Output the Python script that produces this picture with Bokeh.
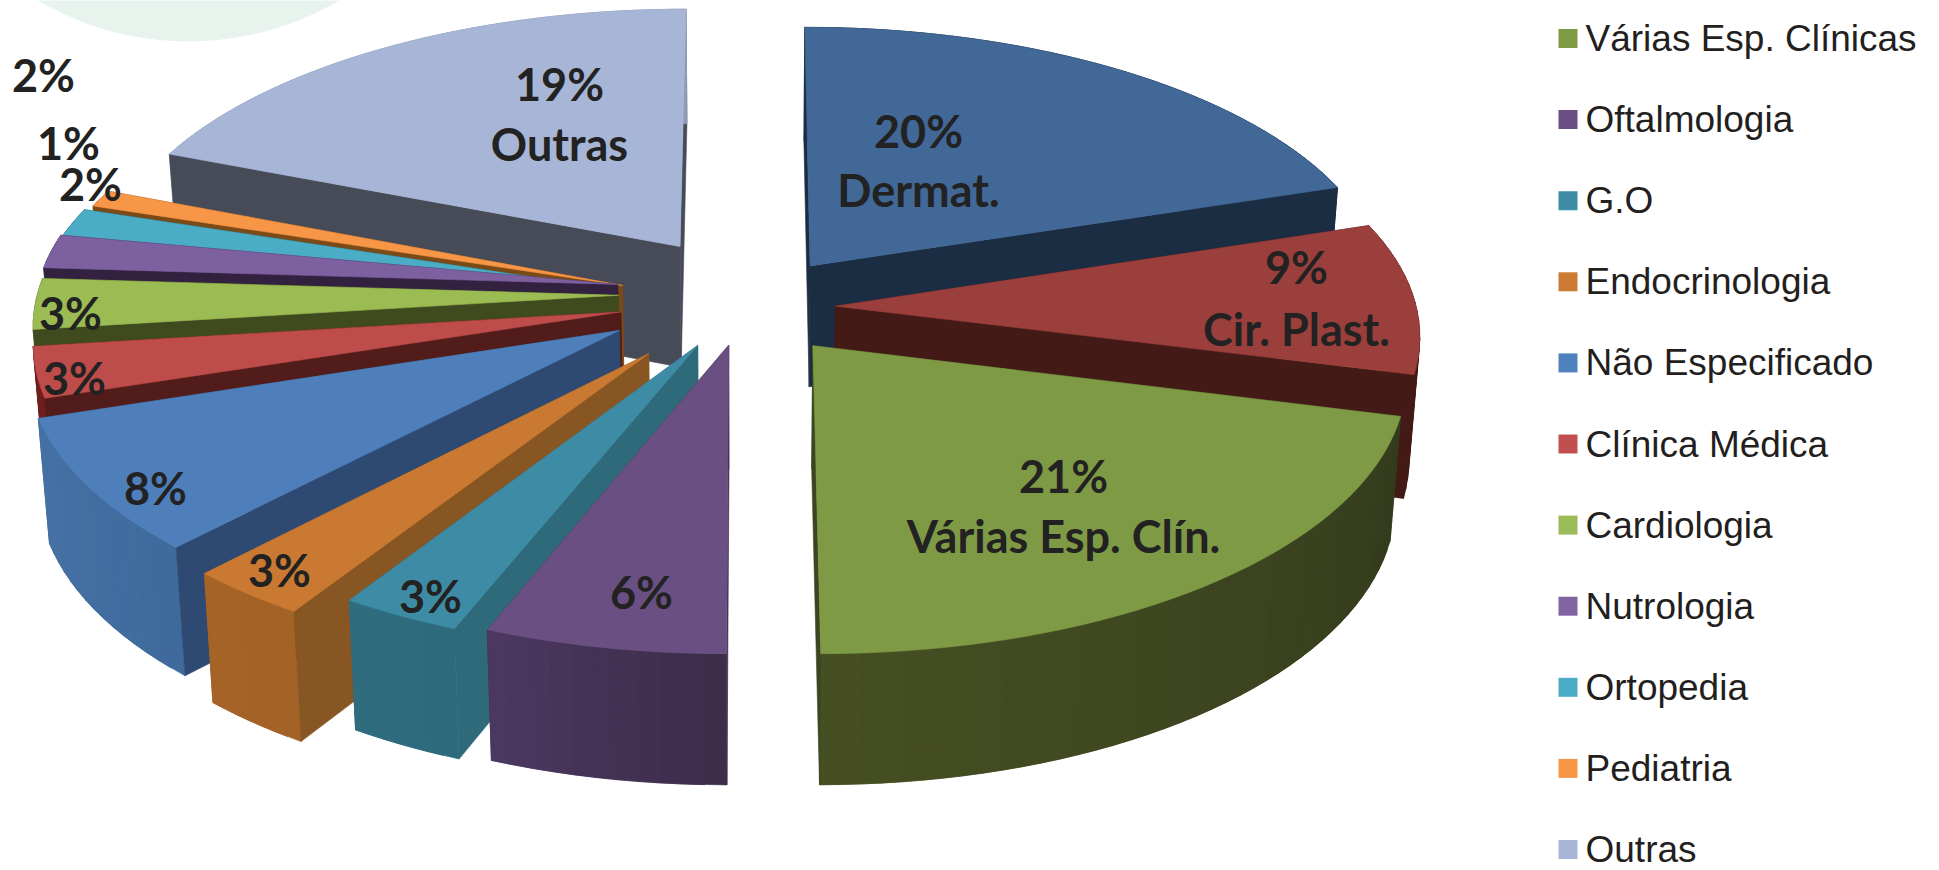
import numpy as np
from bokeh.plotting import figure
from bokeh.models import ColumnDataSource
from bokeh.core.properties import value
from bokeh.embed import file_html
from bokeh.resources import INLINE

# ---- data ----
categories = ["Dermatologia", "Cirurgia Plástica", "Várias Esp. Clínicas", "Oftalmologia", "G.O",
              "Endocrinologia", "Não Especificado", "Clínica Médica", "Cardiologia", "Nutrologia",
              "Ortopedia", "Pediatria", "Outras"]
shares = [20, 9, 21, 6, 3, 3, 8, 3, 3, 2, 2, 1, 19]
slice_labels = ["20%\nDermat.", "9%\nCir. Plast.", "21%\nVárias Esp. Clín.", "6%", "3%", "3%", "8%",
                "3%", "3%", "2%", "2%", "1%", "19%\nOutras"]
legend_categories = categories[2:]

# ---- styles ----
top_colors = ["#416897", "#9b3f3d", "#7f9a45", "#6a5082", "#3e8ba5", "#c97931", "#4f7fbb",
              "#bd4c4a", "#9bbb53", "#7d60a0", "#4bacc6", "#f79646", "#a7b6d6"]
face_colors = ["#1b2d43", "#431a16", "#3b4620", "#3f2e4e", "#2e6a7a", "#875623", "#2e4a72",
               "#521c1a", "#3f4a1f", "#32213f", "#1d4752", "#7a4a17", "#474b58"]
rim_from = ["#1b2d43", "#431a16", "#333b1d", "#3d2c4a", "#2d6a7c", "#a36226", "#3f6a9c",
            "#6e1f1e", "#5f7530", "#4b3a63", "#2f6c7e", "#95591f", "#8f9bb6"]
rim_to = ["#1b2d43", "#431a16", "#464f22", "#4b3860", "#2f6c7e", "#a56327", "#4671a5",
          "#6e1f1e", "#5f7530", "#4b3a63", "#2f6c7e", "#95591f", "#8f9bb6"]
legend_colors = ["#7f9a45", "#6a5082", "#3f8ca6", "#cc7a34", "#4f81bd", "#c0504d", "#9bbb59",
                 "#8064a2", "#4bacc6", "#f79646", "#a7b6d6"]
draw_order = [12, 0, 11, 10, 9, 8, 7, 6, 5, 4, 3, 1, 2]

# ---- layout of the projected pie ----
CX, CY, RX, RY, PERSP = 742, 297, 581, 269, 0.0975
DEPTH, BOTTOM_SHRINK = 122, 0.984
explode = [0.18, 0.16, 0.20, 0.17, 0.16, 0.25, 0.24, 0.21, 0.21, 0.21, 0.21, 0.21, 0.21]
nudge_x = [7, 0, -2, 5, -2, -3, -4, -2, -2, -4, -10, -6, 5]
nudge_y = [7, 10, 5, 2, 9, 2, -2, 2, -4, -6, 6, 7, -5]
label_pos = [(918, 130, 189), (1296, 266, 328), (1063, 475, 535), (641, 591), (430, 595), (279, 569),
             (155, 487), (74, 377), (70, 312), (90, 183), (43, 74), (68, 142), (559, 83, 143)]
LEG_X, LEG_Y0, LEG_STEP, LEG_BOX = 1558, 38, 81.1, 19


def project(i, X, Z, bottom=False):
    X, Z = np.asarray(X, float), np.asarray(Z, float)
    d = 1 + PERSP * Z
    x, y = RX * X / d, -RY * Z / d
    if bottom:
        return CX + nudge_x[i] + x * BOTTOM_SHRINK, CY + nudge_y[i] + y + DEPTH / (1 + 0.06 * Z)
    return CX + nudge_x[i] + x, CY + nudge_y[i] + y


def hexmix(a, b, t):
    ca = [int(a[i:i + 2], 16) for i in (1, 3, 5)]
    cb = [int(b[i:i + 2], 16) for i in (1, 3, 5)]
    return "#%02x%02x%02x" % tuple(round(p + (q - p) * t) for p, q in zip(ca, cb))


fractions = np.array(shares, float) / sum(shares)
ends = np.cumsum(fractions) * 2 * np.pi
starts = ends - fractions * 2 * np.pi

xs, ys, cols = [], [], []


def add(px, py, c):
    xs.append(list(px))
    ys.append(list(py))
    cols.append(c)


for i in draw_order:
    a0, a1 = starts[i], ends[i]
    mid = (a0 + a1) / 2
    ox, oz = explode[i] * np.sin(mid), explode[i] * np.cos(mid)
    th = np.linspace(a0, a1, max(8, int(fractions[i] * 200)))
    RIMX, RIMZ = ox + np.sin(th), oz + np.cos(th)

    def face(angle):
        Xf = np.array([ox, ox + np.sin(angle)])
        Zf = np.array([oz, oz + np.cos(angle)])
        tx, ty = project(i, Xf, Zf)
        bx, by = project(i, Xf, Zf, bottom=True)
        return list(tx) + list(bx[::-1]), list(ty) + list(by[::-1])

    # hidden face first, then the curved wall, then the visible face, then the top
    hidden, seen = (a1, a0) if mid > np.pi else (a0, a1)
    add(*face(hidden), face_colors[i])
    tx, ty = project(i, RIMX, RIMZ)
    bx, by = project(i, RIMX, RIMZ, bottom=True)
    last = len(th) - 1
    for k in range(last):
        # each strip overlaps the next one so that no seams show
        e = min(k + 2, last)
        c = hexmix(rim_from[i], rim_to[i], k / max(1, last - 1))
        add([tx[k], tx[e], bx[e], bx[k]], [ty[k], ty[e], by[e], by[k]], c)
    add(*face(seen), face_colors[i])
    ax, ay = project(i, [ox], [oz])
    add([ax[0]] + list(tx), [ay[0]] + list(ty), top_colors[i])

p = figure(width=1939, height=870, x_range=(0, 1939), y_range=(870, 0),
           toolbar_location=None, output_backend="svg", min_border=0)
p.axis.visible = False
p.grid.visible = False
p.outline_line_color = None
p.background_fill_color = "white"

# pale watermark at the top of the page
p.ellipse(x=[188], y=[-257], width=[596], height=[596], fill_color="#e8f3ee", line_color=None)

src = ColumnDataSource(dict(xs=xs, ys=ys, color=cols))
p.patches("xs", "ys", source=src, fill_color="color", line_color="color", line_width=0.6)

# slice labels
lx, ly, lt = [], [], []
for txt, pos in zip(slice_labels, label_pos):
    for part, yy in zip(txt.split("\n"), pos[1:]):
        lx.append(pos[0]); ly.append(yy); lt.append(part)
p.text(lx, ly, text=lt, text_font=value("Lato"), text_font_style="bold", text_font_size="45px",
       text_color="#222222", text_align="center", text_baseline="middle")

# legend
n = len(legend_categories)
leg_y = [LEG_Y0 + LEG_STEP * k for k in range(n)]
p.rect([LEG_X + LEG_BOX / 2] * n, leg_y, width=LEG_BOX, height=LEG_BOX, fill_color=legend_colors, line_color=None)
p.text([LEG_X + 27] * n, leg_y, text=legend_categories, text_font=value("Arial"),
       text_font_size="37px", text_color="#231f20", text_align="left", text_baseline="middle")

open("out.html", "w").write(file_html(p, INLINE))
